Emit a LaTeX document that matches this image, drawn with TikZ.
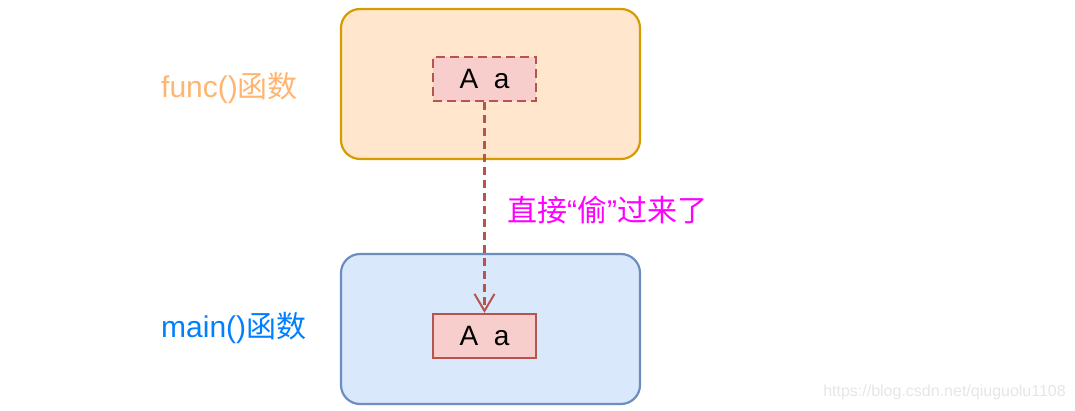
\documentclass[tikz,border=0pt]{standalone}
\usepackage{fontspec}
\setmainfont{Liberation Sans}
\newfontfamily\cjk{Noto Sans CJK SC}
\usetikzlibrary{arrows.meta}
\definecolor{orfill}{HTML}{FFE6CC}
\definecolor{ordraw}{HTML}{D79B00}
\definecolor{blfill}{HTML}{DAE8FC}
\definecolor{bldraw}{HTML}{6C8EBF}
\definecolor{rdfill}{HTML}{F8CECC}
\definecolor{rddraw}{HTML}{B85450}
\definecolor{orlabel}{HTML}{FFB570}
\definecolor{bllabel}{HTML}{007FFF}
\definecolor{mglabel}{HTML}{FF00FF}
\definecolor{wmark}{HTML}{E6E6E6}
\begin{document}
\begin{tikzpicture}[x=1pt,y=-1pt,
  outer/.style={draw, line width=2.2pt, rounded corners=19pt, minimum width=299pt, minimum height=150pt, inner sep=0pt},
  varbox/.style={draw=rddraw, fill=rdfill, line width=2.2pt, minimum width=103pt, minimum height=44pt, inner sep=0pt, font=\fontsize{28}{32}\selectfont},
  lbl/.style={anchor=west, inner sep=0pt, font=\fontsize{30}{34}\selectfont}]
\useasboundingbox (0,0) rectangle (1075,411);
\node[outer, draw=ordraw, fill=orfill] (func) at (490.5,84) {};
\node[outer, draw=bldraw, fill=blfill] (main) at (490.5,329) {};
\node[varbox, dash pattern=on 9pt off 5pt] (a1) at (484.5,79) {A\ \ a};
\node[varbox] (a2) at (484.5,336) {A\ \ a};
\draw[rddraw, line width=2.2pt, dash pattern=on 8pt off 5pt, -{Straight Barb[length=17pt,width=20pt,line width=2pt]}] (a1.south) -- (a2.north);
\node[lbl, text=orlabel] (lf) at (161,88) {func()\cjk 函数};
\node[lbl, text=bllabel] (lm) at (161,328) {main()\cjk 函数};
\node[lbl, text=mglabel] (lt) at (507,210) {\cjk 直接\rmfamily“\cjk 偷\rmfamily”\cjk 过来了};
\node[anchor=east, inner sep=0pt, text=wmark, font=\fontsize{16}{19}\selectfont] (wm) at (1066,392) {https://blog.csdn.net/qiuguolu1108};
\end{tikzpicture}
\end{document}
